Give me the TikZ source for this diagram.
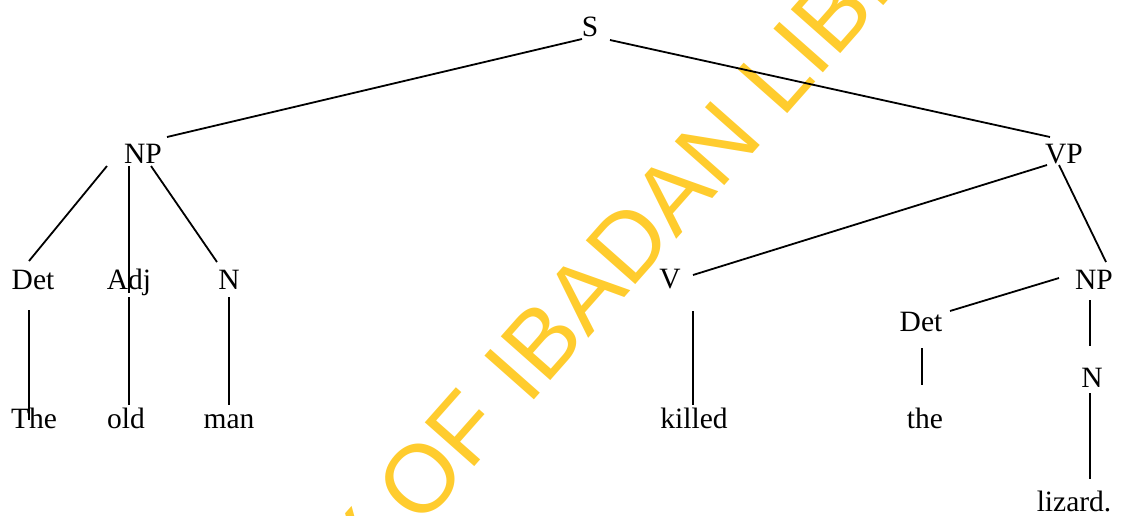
\documentclass[tikz,border=0pt]{standalone}
\usepackage{fontspec}
\setmainfont{Liberation Serif}
\newfontfamily\wmfont{Liberation Sans}
\definecolor{wmyellow}{HTML}{FFCC2E}
\begin{document}
\begin{tikzpicture}[x=1pt,y=-1pt,
  lbl/.style={inner sep=0pt, anchor=base, font=\fontsize{29.5}{34}\selectfont},
  edge/.style={line width=1.8pt, black},
  wm/.style={inner sep=0pt, text=wmyellow, font=\wmfont\fontsize{96}{110}\selectfont, rotate=48.5}]
\useasboundingbox (0,0) rectangle (1121,515);
% watermark
\node[wm, anchor=base west] (wmB) at (528,407) {IBADAN LIBRARY};
\node[wm, anchor=base east] (wmA) at (wmB.base west) {UNIVERSITY OF\kern0.3em};
% nodes
\node[lbl] (S) at (590,36) {S};
\node[lbl] (NPa) at (143,163) {NP};
\node[lbl] (VP) at (1064,163) {VP};
\node[lbl] (Deta) at (33,289) {Det};
\node[lbl] (Adj) at (129,289) {Adj};
\node[lbl] (Na) at (229,289) {N};
\node[lbl] (V) at (670,288) {V};
\node[lbl] (NPb) at (1094,289) {NP};
\node[lbl] (Detb) at (921,331) {Det};
\node[lbl] (Nb) at (1092,387) {N};
\node[lbl] (The) at (34,428) {The};
\node[lbl] (old) at (126,428) {old};
\node[lbl] (man) at (229,428) {man};
\node[lbl] (killed) at (694,428) {killed};
\node[lbl] (the) at (925,428) {the};
\node[lbl] (lizard) at (1074,511) {lizard.};
% connectors
\draw[edge] ([shift={(-8,3)}]S.base) -- ([shift={(24,-26)}]NPa.base);
\draw[edge] ([shift={(20,4)}]S.base) -- ([shift={(-14,-26)}]VP.base);
\draw[edge] ([shift={(-36,3)}]NPa.base) -- ([shift={(-4,-28)}]Deta.base);
\draw[edge] ([shift={(-14,3)}]NPa.base) -- ([shift={(0,4)}]Adj.base);
\draw[edge] ([shift={(8,3)}]NPa.base) -- ([shift={(-12,-27)}]Na.base);
\draw[edge] ([shift={(-4,21)}]Deta.base) -- ([shift={(-5,-8)}]The.base);
\draw[edge] ([shift={(0,8)}]Adj.base) -- ([shift={(3,-23)}]old.base);
\draw[edge] ([shift={(0,8)}]Na.base) -- ([shift={(0,-23)}]man.base);
\draw[edge] ([shift={(-17,2)}]VP.base) -- ([shift={(23,-13)}]V.base);
\draw[edge] ([shift={(-5,2)}]VP.base) -- ([shift={(12,-27)}]NPb.base);
\draw[edge] ([shift={(23,23)}]V.base) -- ([shift={(-1,-23)}]killed.base);
\draw[edge] ([shift={(-35,-11)}]NPb.base) -- ([shift={(29,-20)}]Detb.base);
\draw[edge] ([shift={(1,17)}]Detb.base) -- ([shift={(-3,-43)}]the.base);
\draw[edge] ([shift={(-4,11)}]NPb.base) -- ([shift={(-2,-41)}]Nb.base);
\draw[edge] ([shift={(-2,6)}]Nb.base) -- ([shift={(16,-32)}]lizard.base);
\end{tikzpicture}
\end{document}
